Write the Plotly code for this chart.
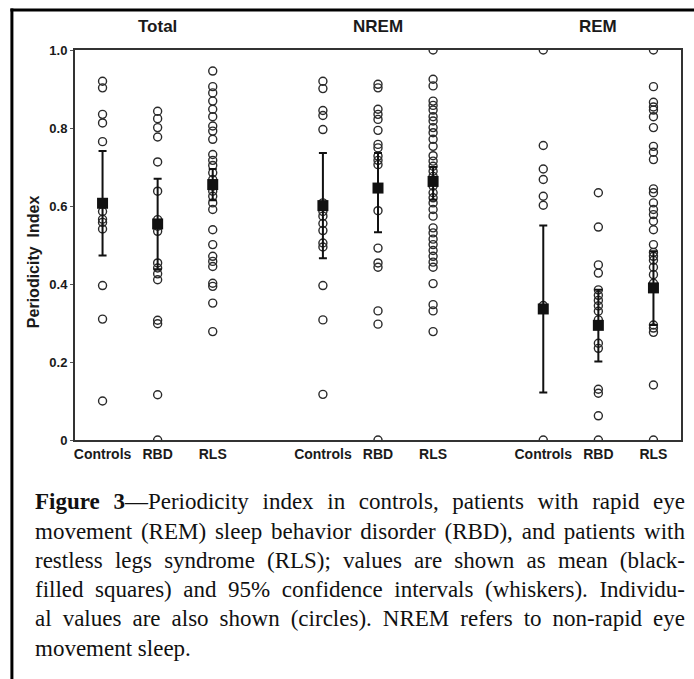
import json
import plotly.graph_objects as go

# ---------------- data ----------------
groups = ["Total", "NREM", "REM"]
subjects = ["Controls", "RBD", "RLS"]

ctrl_total = [0.920, 0.903, 0.835, 0.813, 0.765, 0.586, 0.566, 0.558, 0.541, 0.396, 0.310, 0.100]
rbd_total = [0.843, 0.824, 0.801, 0.777, 0.713, 0.638, 0.565, 0.548, 0.535, 0.454, 0.441,
             0.426, 0.411, 0.307, 0.298, 0.116, 0.0]
rls_total = [0.946, 0.906, 0.890, 0.869, 0.848, 0.829, 0.805, 0.792, 0.771, 0.732, 0.717,
             0.704, 0.685, 0.668, 0.651, 0.638, 0.625, 0.608, 0.591, 0.539, 0.501, 0.471,
             0.458, 0.445, 0.402, 0.394, 0.351, 0.278]

ctrl_nrem = [0.920, 0.901, 0.845, 0.832, 0.796, 0.608, 0.586, 0.574, 0.555, 0.537, 0.505,
             0.495, 0.396, 0.308, 0.117]
rbd_nrem = [0.912, 0.903, 0.848, 0.835, 0.822, 0.794, 0.758, 0.749, 0.728, 0.717, 0.706,
            0.588, 0.492, 0.454, 0.443, 0.331, 0.297, 0.0]
rls_nrem = [1.0, 0.925, 0.908, 0.869, 0.858, 0.846, 0.829, 0.818, 0.801, 0.788, 0.771,
            0.753, 0.729, 0.715, 0.702, 0.689, 0.676, 0.651, 0.634, 0.621, 0.608, 0.591,
            0.574, 0.544, 0.531, 0.515, 0.501, 0.486, 0.471, 0.456, 0.443, 0.401, 0.347,
            0.331, 0.278]

ctrl_rem = [1.0, 0.755, 0.695, 0.668, 0.625, 0.602, 0.345, 0.0]
rbd_rem = [0.634, 0.546, 0.449, 0.428, 0.385, 0.371, 0.358, 0.344, 0.330, 0.308, 0.248,
           0.235, 0.130, 0.120, 0.062, 0.0]
rls_rem = [1.0, 0.906, 0.866, 0.854, 0.846, 0.829, 0.801, 0.753, 0.738, 0.719, 0.644,
           0.634, 0.608, 0.591, 0.578, 0.561, 0.539, 0.501, 0.481, 0.471, 0.461, 0.443,
           0.424, 0.402, 0.390, 0.295, 0.287, 0.276, 0.141, 0.0]

mean_vals = [0.607, 0.554, 0.655, 0.601, 0.646, 0.663, 0.336, 0.294, 0.390]
ci_low = [0.473, 0.438, 0.615, 0.466, 0.533, 0.616, 0.122, 0.201, 0.295]
ci_high = [0.741, 0.670, 0.695, 0.736, 0.736, 0.700, 0.550, 0.385, 0.484]

y_ticks = [0, 0.2, 0.4, 0.6, 0.8, 1.0]
y_tick_text = ["0", "0.2", "0.4", "0.6", "0.8", "1.0"]

caption_lines = [
    "<b>Figure 3</b>\u2014Periodicity index in controls, patients with rapid eye",
    "movement (REM) sleep behavior disorder (RBD), and patients with",
    "restless legs syndrome (RLS); values are shown as mean (black-",
    "filled squares) and 95% confidence intervals (whiskers). Individu-",
    "al values are also shown (circles). NREM refers to non-rapid eye",
    "movement sleep.",
]

# ---------------- layout geometry ----------------
W, H = 694, 679
L, R, T, B = 75, 683, 50, 440


def px_x(px):
    return (px - L) / (R - L)


def px_y(py):
    return (B - py) / (B - T)


series = [ctrl_total, rbd_total, rls_total,
          ctrl_nrem, rbd_nrem, rls_nrem,
          ctrl_rem, rbd_rem, rls_rem]
positions = [g * 4 + s for g in range(len(groups)) for s in range(len(subjects))]
labels = [s for g in groups for s in subjects]

fig = go.Figure()

for pos, vals in zip(positions, series):
    fig.add_trace(go.Scatter(
        x=[pos] * len(vals), y=vals, mode="markers",
        marker=dict(symbol="circle-open", size=8, color="#2a2a2a",
                    line=dict(width=1.4, color="#2a2a2a")),
        showlegend=False, hoverinfo="y"))

fig.add_trace(go.Scatter(
    x=positions, y=mean_vals, mode="markers",
    marker=dict(symbol="square", size=11, color="#111111"),
    error_y=dict(type="data", symmetric=False,
                 array=[h - m for h, m in zip(ci_high, mean_vals)],
                 arrayminus=[m - l for m, l in zip(mean_vals, ci_low)],
                 color="#111111", thickness=2, width=4),
    showlegend=False, hoverinfo="y"))

annotations = []
for gi, g in enumerate(groups):
    annotations.append(dict(
        x=gi * 4 + 1, xref="x", y=px_y(26), yref="paper",
        text="<b>%s</b>" % g, showarrow=False, xanchor="center", yanchor="middle",
        font=dict(family="Liberation Sans", size=17, color="#1a1a1a")))

annotations.append(dict(
    x=px_x(33), xref="paper", y=px_y(262), yref="paper",
    text="<b>Periodicity  Index</b>", textangle=-90, showarrow=False,
    xanchor="center", yanchor="middle",
    font=dict(family="Liberation Sans", size=16, color="#1a1a1a")))

cap_start = len(annotations)
for i, line in enumerate(caption_lines):
    annotations.append(dict(
        x=px_x(33), xref="paper", y=px_y(502 + 29.2 * i), yref="paper",
        text=line, showarrow=False, xanchor="left", yanchor="middle", align="left",
        font=dict(family="Liberation Serif", size=23, color="#111111")))
justify_idx = list(range(cap_start, cap_start + len(caption_lines) - 1))

shapes = [
    # outer figure box (left and top edges visible)
    dict(type="line", xref="paper", yref="paper",
         x0=px_x(11.7), x1=px_x(11.7), y0=px_y(8.5), y1=px_y(700),
         line=dict(color="#000000", width=3)),
    dict(type="line", xref="paper", yref="paper",
         x0=px_x(10.2), x1=px_x(720), y0=px_y(10), y1=px_y(10),
         line=dict(color="#000000", width=3)),
]

fig.update_layout(
    width=W, height=H, autosize=False,
    margin=dict(l=L, r=W - R, t=T, b=H - B, pad=0),
    paper_bgcolor="white", plot_bgcolor="white",
    showlegend=False,
    annotations=annotations, shapes=shapes,
    xaxis=dict(range=[-0.5, 10.5], tickvals=positions, ticktext=labels,
               showgrid=False, zeroline=False, showline=True, mirror=True,
               linecolor="#333333", linewidth=2, ticks="",
               tickfont=dict(family="Liberation Sans", size=14, color="#1a1a1a",
                             weight="bold"),
               tickangle=0),
    yaxis=dict(range=[0, 1], tickvals=y_ticks, ticktext=y_tick_text,
               showgrid=False, zeroline=False, showline=True, mirror=True,
               linecolor="#333333", linewidth=2, ticks="outside", ticklen=3,
               tickwidth=1, tickcolor="#555555",
               tickfont=dict(family="Liberation Sans", size=13, color="#1a1a1a",
                             weight="bold")),
)

post = """
var gd = document.getElementById('{plot_id}');
var JIDX = %s;
var TARGET = %f;
function justifyCaption(){
  JIDX.forEach(function(idx){
    var g = gd.querySelector('g.annotation[data-index="' + idx + '"]');
    if(!g) return;
    var t = g.querySelector('text.annotation-text');
    if(!t) return;
    t.style.wordSpacing = '0px';
    var len = t.getComputedTextLength();
    var n = (t.textContent.match(/ /g) || []).length;
    if(n > 0 && len < TARGET){
      t.style.wordSpacing = ((TARGET - len) / n) + 'px';
    }
  });
}
justifyCaption();
setTimeout(justifyCaption, 50);
setTimeout(justifyCaption, 300);
""" % (json.dumps(justify_idx), R - 33)

fig.write_html("out.html", post_script=post)
